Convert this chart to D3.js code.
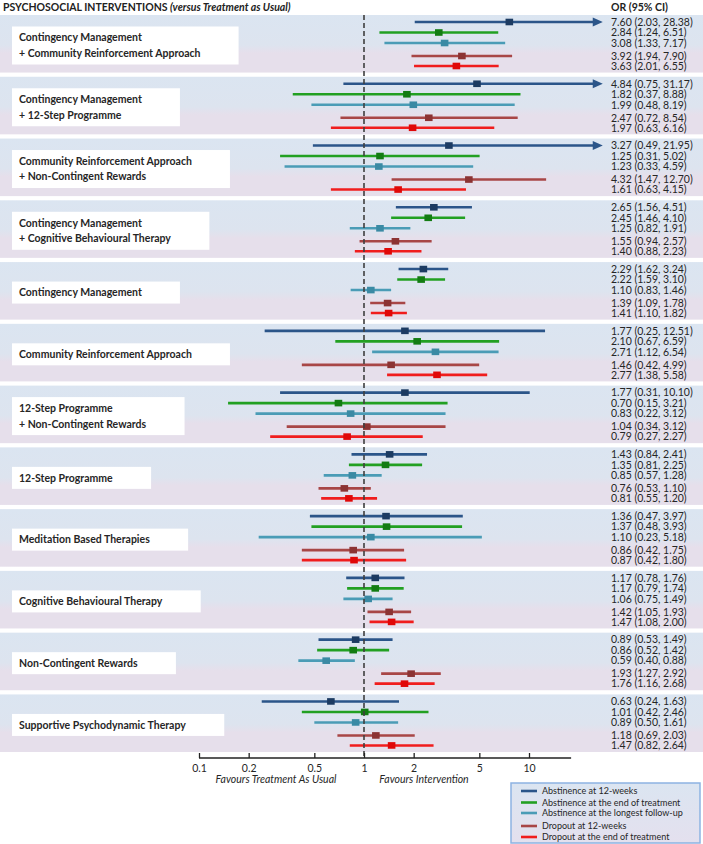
<!DOCTYPE html>
<html>
<head>
<meta charset="utf-8">
<script src="https://cdn.jsdelivr.net/npm/d3@7"></script>
<style>
  body { margin: 0; background: #fff; }
  svg { display: block; font-family: Lato, "Open Sans", sans-serif; }
</style>
</head>
<body>
<svg id="chart" width="703" height="844"></svg>
<script>
// interventions (label lines as shown in the boxes)
const interventions = [
  ["Contingency Management", "+ Community Reinforcement Approach"],
  ["Contingency Management", "+ 12-Step Programme"],
  ["Community Reinforcement Approach", "+ Non-Contingent Rewards"],
  ["Contingency Management", "+ Cognitive Behavioural Therapy"],
  ["Contingency Management"],
  ["Community Reinforcement Approach"],
  ["12-Step Programme", "+ Non-Contingent Rewards"],
  ["12-Step Programme"],
  ["Meditation Based Therapies"],
  ["Cognitive Behavioural Therapy"],
  ["Non-Contingent Rewards"],
  ["Supportive Psychodynamic Therapy"]
];

const outcomes = [
  "Abstinence at 12-weeks",
  "Abstinence at the end of treatment",
  "Abstinence at the longest follow-up",
  "Dropout at 12-weeks",
  "Dropout at the end of treatment"
];

// odds ratios, one row per intervention, one column per outcome
const oddsRatio = [
  [7.60, 2.84, 3.08, 3.92, 3.63],
  [4.84, 1.82, 1.99, 2.47, 1.97],
  [3.27, 1.25, 1.23, 4.32, 1.61],
  [2.65, 2.45, 1.25, 1.55, 1.40],
  [2.29, 2.22, 1.10, 1.39, 1.41],
  [1.77, 2.10, 2.71, 1.46, 2.77],
  [1.77, 0.70, 0.83, 1.04, 0.79],
  [1.43, 1.35, 0.85, 0.76, 0.81],
  [1.36, 1.37, 1.10, 0.86, 0.87],
  [1.17, 1.17, 1.06, 1.42, 1.47],
  [0.89, 0.86, 0.59, 1.93, 1.76],
  [0.63, 1.01, 0.89, 1.18, 1.47]
];
const ciLow = [
  [2.03, 1.24, 1.33, 1.94, 2.01],
  [0.75, 0.37, 0.48, 0.72, 0.63],
  [0.49, 0.31, 0.33, 1.47, 0.63],
  [1.56, 1.46, 0.82, 0.94, 0.88],
  [1.62, 1.59, 0.83, 1.09, 1.10],
  [0.25, 0.67, 1.12, 0.42, 1.38],
  [0.31, 0.15, 0.22, 0.34, 0.27],
  [0.84, 0.81, 0.57, 0.53, 0.55],
  [0.47, 0.48, 0.23, 0.42, 0.42],
  [0.78, 0.79, 0.75, 1.05, 1.08],
  [0.53, 0.52, 0.40, 1.27, 1.16],
  [0.24, 0.42, 0.50, 0.69, 0.82]
];
const ciHigh = [
  [28.38, 6.51, 7.17, 7.90, 6.55],
  [31.17, 8.88, 8.19, 8.54, 6.16],
  [21.95, 5.02, 4.59, 12.70, 4.15],
  [4.51, 4.10, 1.91, 2.57, 2.23],
  [3.24, 3.10, 1.46, 1.78, 1.82],
  [12.51, 6.59, 6.54, 4.99, 5.58],
  [10.10, 3.21, 3.12, 3.12, 2.27],
  [2.41, 2.25, 1.28, 1.10, 1.20],
  [3.97, 3.93, 5.18, 1.75, 1.80],
  [1.76, 1.74, 1.49, 1.93, 2.00],
  [1.49, 1.42, 0.88, 2.92, 2.68],
  [1.63, 2.46, 1.61, 2.03, 2.64]
];

const tickValues = [0.1, 0.2, 0.5, 1, 2, 5, 10];

const lineColors = ["#2b5589", "#22a022", "#4a9cb6", "#a84646", "#f01d1d"];
const markColors = ["#1c3b62", "#137c13", "#3a8aa4", "#8c3333", "#e00808"];

const svg = d3.select("#chart");
const fmt = d3.format(".2f");

// log scale: 1 sits on the dashed line, one decade ~165px
const x = d3.scaleLog().domain([0.1, 10]).range([199, 529]);
const arrowAt = 28;      // upper limits beyond ~20 are cut and drawn as arrows
const arrowCut = 20;

const groups = d3.scaleBand().domain(d3.range(interventions.length))
  .range([15, 752]).paddingInner(0.068).paddingOuter(0);

function rowY(i) {
  return i < 3 ? 7 + i * 10.5 : 41 + (i - 3) * 10;
}

// background gradient: blue (abstinence) on top, lilac (dropout) below
const defs = svg.append("defs");
const grad = defs.append("linearGradient").attr("id", "bg").attr("x1", 0).attr("x2", 0).attr("y1", 0).attr("y2", 1);
grad.append("stop").attr("offset", "0%").attr("stop-color", "#dbe5f1");
grad.append("stop").attr("offset", "52%").attr("stop-color", "#dde4ef");
grad.append("stop").attr("offset", "66%").attr("stop-color", "#e6dfeb");
grad.append("stop").attr("offset", "100%").attr("stop-color", "#e6dfeb");

const legGrad = defs.append("linearGradient").attr("id", "legbg").attr("x1", 0).attr("x2", 0).attr("y1", 0).attr("y2", 1);
legGrad.append("stop").attr("offset", "0%").attr("stop-color", "#dbe5f1");
legGrad.append("stop").attr("offset", "100%").attr("stop-color", "#e4e0ee");

const g = svg.selectAll("g.group").data(interventions).join("g")
  .attr("class", "group")
  .attr("transform", (d, i) => `translate(0,${groups(i)})`);

g.append("rect")
  .attr("x", 0).attr("y", 0)
  .attr("width", 703).attr("height", groups.bandwidth())
  .attr("fill", "url(#bg)");

// title row
svg.append("text").attr("x", 3).attr("y", 11)
  .attr("font-size", 10.5).attr("font-weight", "bold").attr("fill", "#222")
  .call(t => {
    t.append("tspan").text("PSYCHOSOCIAL INTERVENTIONS ");
    t.append("tspan").attr("font-style", "italic").text("(versus Treatment as Usual)");
  });
svg.append("text").attr("x", 611).attr("y", 11)
  .attr("font-size", 10.5).attr("font-weight", "bold").attr("fill", "#222")
  .text("OR (95% CI)");

// dashed reference line at OR = 1
svg.append("line")
  .attr("x1", x(1)).attr("x2", x(1))
  .attr("y1", 15).attr("y2", 758)
  .attr("stroke", "#3f3f3f").attr("stroke-width", 1.6)
  .attr("stroke-dasharray", "5,3");

// label boxes
g.each(function(lines, i) {
  const sel = d3.select(this);
  const box = sel.append("rect").attr("fill", "#fff");
  const txt = sel.append("text")
    .attr("font-size", 10.5).attr("font-weight", "bold").attr("fill", "#262626");
  const midY = 30.5;
  const lh = 15.5;
  lines.forEach((ln, k) => {
    txt.append("tspan").attr("x", 19)
      .attr("y", midY + (k - (lines.length - 1) / 2) * lh + 3.7)
      .text(ln);
  });
  const w = txt.node().getBBox().width;
  const h = lines.length === 1 ? 22 : 38;
  box.attr("x", 12).attr("y", midY - h / 2)
    .attr("width", w + 45).attr("height", h);
});

// confidence intervals, markers, OR text
g.each(function(lines, i) {
  const sel = d3.select(this);
  outcomes.forEach((name, j) => {
    const y = rowY(j);
    const lo = ciLow[i][j], hi = ciHigh[i][j], or = oddsRatio[i][j];
    const cut = hi > arrowCut;
    const x2 = cut ? x(arrowAt) - 8 : x(hi);
    sel.append("line")
      .attr("x1", x(lo)).attr("x2", x2)
      .attr("y1", y).attr("y2", y)
      .attr("stroke", lineColors[j]).attr("stroke-width", 2.6);
    if (cut) {
      const tip = x(arrowAt);
      sel.append("path")
        .attr("d", `M${tip - 10},${y - 4.5}L${tip},${y}L${tip - 10},${y + 4.5}Z`)
        .attr("fill", lineColors[j]);
    }
    sel.append("rect")
      .attr("x", x(or) - 3.8).attr("y", y - 3.3)
      .attr("width", 7.6).attr("height", 6.6)
      .attr("fill", markColors[j]);
    sel.append("text")
      .attr("x", 611).attr("y", y + 3.8)
      .attr("font-size", 10.5).attr("fill", "#262626")
      .text(`${fmt(or)} (${fmt(lo)}, ${fmt(hi)})`);
  });
});

// x axis
const axisY = 758;
svg.append("line")
  .attr("x1", x(0.1)).attr("x2", x(18))
  .attr("y1", axisY).attr("y2", axisY)
  .attr("stroke", "#222").attr("stroke-width", 1.3);

const axis = d3.axisBottom(x).tickValues(tickValues)
  .tickFormat(d3.format("~g"))
  .tickSizeInner(-5).tickSizeOuter(0).tickPadding(7);

svg.append("g").attr("transform", `translate(0,${axisY})`)
  .call(axis)
  .call(a => a.select(".domain").remove())
  .call(a => a.selectAll(".tick line").attr("stroke", "#222").attr("stroke-width", 1.3))
  .call(a => a.selectAll(".tick text")
    .attr("font-family", "Lato, sans-serif").attr("font-size", 10.5).attr("fill", "#262626"));

svg.append("text").attr("x", 276).attr("y", 783)
  .attr("text-anchor", "middle").attr("font-size", 10.5).attr("font-style", "italic").attr("fill", "#262626")
  .text("Favours Treatment As Usual");
svg.append("text").attr("x", 424).attr("y", 783)
  .attr("text-anchor", "middle").attr("font-size", 10.5).attr("font-style", "italic").attr("fill", "#262626")
  .text("Favours Intervention");

// legend
const leg = svg.append("g").attr("transform", "translate(511,783)");
leg.append("rect").attr("x", 0).attr("y", 0).attr("width", 189).attr("height", 60)
  .attr("fill", "url(#legbg)").attr("stroke", "#8db3e2").attr("stroke-width", 1.5);
const legY = [8, 19.5, 30, 43, 54];
const li = leg.selectAll("g.item").data(outcomes).join("g")
  .attr("class", "item")
  .attr("transform", (d, j) => `translate(0,${legY[j]})`);
li.append("line").attr("x1", 10).attr("x2", 26).attr("y1", 0).attr("y2", 0)
  .attr("stroke", (d, j) => lineColors[j]).attr("stroke-width", 2.6);
li.append("text").attr("x", 31).attr("y", 3.2)
  .attr("font-size", 9).attr("fill", "#262626")
  .text(d => d);
</script>
</body>
</html>
